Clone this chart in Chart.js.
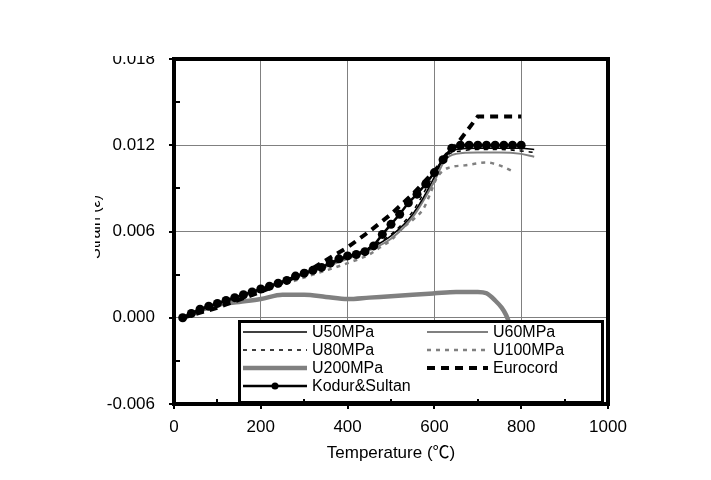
<!DOCTYPE html>
<html>
<head>
<meta charset="utf-8">
<script src="https://cdn.jsdelivr.net/npm/chart.js@4.4.1/dist/chart.umd.min.js"></script>
<style>
  html, body { margin: 0; padding: 0; background: #fff; }
  #wrap { width: 711px; height: 480px; }
</style>
</head>
<body>
<div id="wrap"><canvas id="strainChart" width="711" height="480"></canvas></div>
<script>
// axis ranges / ticks
const xMin = 0, xMax = 1000, xStep = 200;
const yMin = -0.006, yMax = 0.018, yStep = 0.006;

// series (temperature in C, strain)
const u50Temp   = [20, 100, 200, 300, 400, 450, 500, 550, 600, 620, 650, 700, 750, 800, 830];
const u50Strain = [0, 0.0010, 0.0020, 0.0031, 0.0042, 0.0048, 0.0057, 0.0072, 0.0098, 0.0112, 0.0117, 0.0118, 0.0118, 0.0118, 0.0117];

const u60Temp   = [20, 100, 200, 300, 400, 450, 500, 550, 600, 625, 650, 700, 750, 800, 830];
const u60Strain = [0, 0.0009, 0.0019, 0.0030, 0.0041, 0.0047, 0.0055, 0.0070, 0.0095, 0.0110, 0.0114, 0.0115, 0.0115, 0.0114, 0.0112];

const u80Temp   = [20, 100, 200, 300, 400, 450, 500, 550, 600, 630, 660, 700, 750, 800, 830];
const u80Strain = [0, 0.0010, 0.0020, 0.0031, 0.0042, 0.0049, 0.0058, 0.0074, 0.0100, 0.0113, 0.0116, 0.0117, 0.0117, 0.0116, 0.0115];

const u100Temp   = [20, 100, 200, 300, 400, 450, 475, 500, 525, 550, 575, 590, 605, 630, 670, 720, 750, 780];
const u100Strain = [0, 0.0009, 0.0018, 0.0028, 0.0038, 0.0044, 0.0049, 0.0054, 0.0062, 0.0068, 0.0076, 0.0086, 0.0097, 0.0104, 0.0106, 0.0108, 0.0106, 0.0102];

const u200Temp   = [20, 60, 100, 150, 200, 250, 300, 350, 400, 450, 500, 550, 600, 650, 700, 720, 740, 755, 765, 772];
const u200Strain = [0, 0.0005, 0.0009, 0.0011, 0.0013, 0.0016, 0.0016, 0.00145, 0.0013, 0.0014, 0.0015, 0.0016, 0.0017, 0.0018, 0.0018, 0.0017, 0.0012, 0.0007, 0.0002, -0.0003];

const euroTemp   = [20, 100, 200, 300, 400, 450, 500, 550, 600, 650, 690, 700, 750, 800];
const euroStrain = [0, 0.0007, 0.0018, 0.0031, 0.0049, 0.0060, 0.0072, 0.0086, 0.0102, 0.0120, 0.0136, 0.0140, 0.0140, 0.0140];

const kodurTemp   = [20, 40, 60, 80, 100, 120, 140, 160, 180, 200, 220, 240, 260, 280, 300, 320, 340, 360, 380, 400,
                     420, 440, 460, 480, 500, 520, 540, 560, 580, 600, 620, 640, 660, 680, 700, 720, 740, 760, 780, 800];
const kodurStrain = [0, 0.0003, 0.0006, 0.0008, 0.0010, 0.0012, 0.0014, 0.0016, 0.0018, 0.0020, 0.0022, 0.0024, 0.0026, 0.0029, 0.0031, 0.0033, 0.0035, 0.0038, 0.0041, 0.0043,
                     0.0044, 0.0046, 0.0050, 0.0058, 0.0065, 0.0072, 0.0080, 0.0086, 0.0093, 0.0101, 0.0110, 0.0118, 0.0120, 0.0120, 0.0120, 0.0120, 0.0120, 0.0120, 0.0120, 0.0120];

const FONT = "'Liberation Sans', Arial, sans-serif";
const TITLE_FONT = "'Liberation Sans', 'Noto Sans CJK SC', sans-serif";
const GREY = '#808080';

function pts(temps, vals) {
    return temps.map((t, i) => ({ x: t, y: vals[i] }));
}

// legend layout: [dataset index, column, row]
const legendSlots = [[0, 0, 0], [1, 1, 0], [2, 0, 1], [3, 1, 1], [4, 0, 2], [5, 1, 2], [6, 0, 3]];

const framePlugin = {
    id: 'frame',
    afterDatasetsDraw(chart) {
        const ctx = chart.ctx;
        // legend box inside the plot
        ctx.save();
        ctx.fillStyle = '#fff';
        ctx.fillRect(238, 320, 366, 84);
        ctx.lineWidth = 3;
        ctx.strokeStyle = '#000';
        ctx.strokeRect(239.5, 321.5, 363, 81);
        const colX = [[243, 307, 312], [427, 488, 493]];
        const rowY = [332, 350, 368, 386];
        ctx.font = '16px ' + FONT;
        ctx.textBaseline = 'middle';
        ctx.fillStyle = '#000';
        legendSlots.forEach(([di, c, r]) => {
            const ds = chart.data.datasets[di];
            const [x0, x1, tx] = colX[c];
            const y = rowY[r];
            ctx.save();
            ctx.strokeStyle = ds.borderColor;
            ctx.lineWidth = ds.borderWidth;
            ctx.setLineDash(ds.borderDash || []);
            ctx.beginPath();
            ctx.moveTo(x0, y);
            ctx.lineTo(x1, y);
            ctx.stroke();
            if (ds.pointRadius > 0) {
                ctx.setLineDash([]);
                ctx.fillStyle = ds.pointBackgroundColor;
                ctx.beginPath();
                ctx.arc((x0 + x1) / 2, y, 3.5, 0, Math.PI * 2);
                ctx.fill();
            }
            ctx.restore();
            ctx.fillText(ds.label, tx, y + 1);
        });
        ctx.restore();
    },
    afterDraw(chart) {
        const ctx = chart.ctx;
        const a = chart.chartArea;
        const xs = chart.scales.x, ys = chart.scales.y;
        ctx.save();
        // top label is cut off in the original
        ctx.fillStyle = '#fff';
        ctx.fillRect(0, 0, 170, 56);

        ctx.strokeStyle = '#000';
        ctx.lineWidth = 2;
        // y ticks: major outside, minor inside
        for (let v = yMin; v <= yMax + 1e-9; v += yStep / 2) {
            const y = Math.round(ys.getPixelForValue(v));
            const major = Math.abs(Math.round(v / yStep) * yStep - v) < 1e-9;
            ctx.beginPath();
            if (major) { ctx.moveTo(a.left - 5, y); ctx.lineTo(a.left, y); }
            else { ctx.moveTo(a.left, y); ctx.lineTo(a.left + 6, y); }
            ctx.stroke();
        }
        for (let v = xMin; v <= xMax; v += xStep / 2) {
            const x = Math.round(xs.getPixelForValue(v));
            const major = v % xStep === 0;
            ctx.beginPath();
            if (major) { ctx.moveTo(x, a.bottom); ctx.lineTo(x, a.bottom + 5); }
            else { ctx.moveTo(x, a.bottom); ctx.lineTo(x, a.bottom - 5); }
            ctx.stroke();
        }
        // thick plot frame
        ctx.lineWidth = 4;
        ctx.strokeRect(a.left, a.top, a.right - a.left, a.bottom - a.top);

        // axis titles
        ctx.fillStyle = '#000';
        ctx.font = '17px ' + TITLE_FONT;
        ctx.textAlign = 'center';
        ctx.textBaseline = 'middle';
        ctx.fillText('Temperature (\u2103)', (a.left + a.right) / 2, 453);

        // y title: only a sliver shows in the original
        ctx.save();
        ctx.font = '16px ' + FONT;
        ctx.beginPath();
        ctx.rect(95, 0, 8, 480);
        ctx.clip();
        ctx.translate(100, 227);
        ctx.rotate(-Math.PI / 2);
        ctx.textBaseline = 'alphabetic';
        ctx.fillText('Strain (\u03b5)', 0, 0);
        ctx.restore();
        ctx.restore();
    }
};

const ctx = document.getElementById('strainChart').getContext('2d');
new Chart(ctx, {
    type: 'line',
    data: {
        datasets: [
            { label: 'U50MPa', data: pts(u50Temp, u50Strain), borderColor: '#000', borderWidth: 1.5, pointRadius: 0, cubicInterpolationMode: 'monotone', order: 2 },
            { label: 'U60MPa', data: pts(u60Temp, u60Strain), borderColor: GREY, borderWidth: 2, pointRadius: 0, cubicInterpolationMode: 'monotone', order: 3 },
            { label: 'U80MPa', data: pts(u80Temp, u80Strain), borderColor: '#000', borderWidth: 1.5, borderDash: [4, 5], pointRadius: 0, cubicInterpolationMode: 'monotone', order: 4 },
            { label: 'U100MPa', data: pts(u100Temp, u100Strain), borderColor: GREY, borderWidth: 2.5, borderDash: [4, 5], pointRadius: 0, cubicInterpolationMode: 'monotone', order: 5 },
            { label: 'U200MPa', data: pts(u200Temp, u200Strain), borderColor: GREY, borderWidth: 4.5, pointRadius: 0, cubicInterpolationMode: 'monotone', order: 6 },
            { label: 'Eurocord', data: pts(euroTemp, euroStrain), borderColor: '#000', borderWidth: 4, borderDash: [8, 6], pointRadius: 0, order: 1 },
            { label: 'Kodur&Sultan', data: pts(kodurTemp, kodurStrain), borderColor: '#000', borderWidth: 2.5,
              pointRadius: 4.5, pointBackgroundColor: '#000', pointBorderColor: '#000', pointBorderWidth: 0, order: 0 }
        ]
    },
    options: {
        responsive: false,
        animation: false,
        layout: { padding: { left: 0, top: 59, right: 103, bottom: 0 } },
        plugins: { legend: { display: false }, tooltip: { enabled: false } },
        scales: {
            x: {
                type: 'linear', min: xMin, max: xMax,
                ticks: { stepSize: xStep, color: '#000', font: { family: FONT, size: 17 }, padding: 13, maxRotation: 0,
                         callback: v => String(v) },
                grid: { color: GREY, lineWidth: 1, drawTicks: false },
                border: { display: false },
                afterFit: s => { s.height = 76; }
            },
            y: {
                min: yMin, max: yMax,
                ticks: {
                    stepSize: yStep, color: '#000', font: { family: FONT, size: 17 }, padding: 19,
                    callback: v => (Math.abs(v) < 1e-9 ? 0 : v).toFixed(3)
                },
                grid: { color: GREY, lineWidth: 1, drawTicks: false },
                border: { display: false },
                afterFit: s => { s.width = 174; }
            }
        }
    },
    plugins: [framePlugin]
});
</script>
</body>
</html>
